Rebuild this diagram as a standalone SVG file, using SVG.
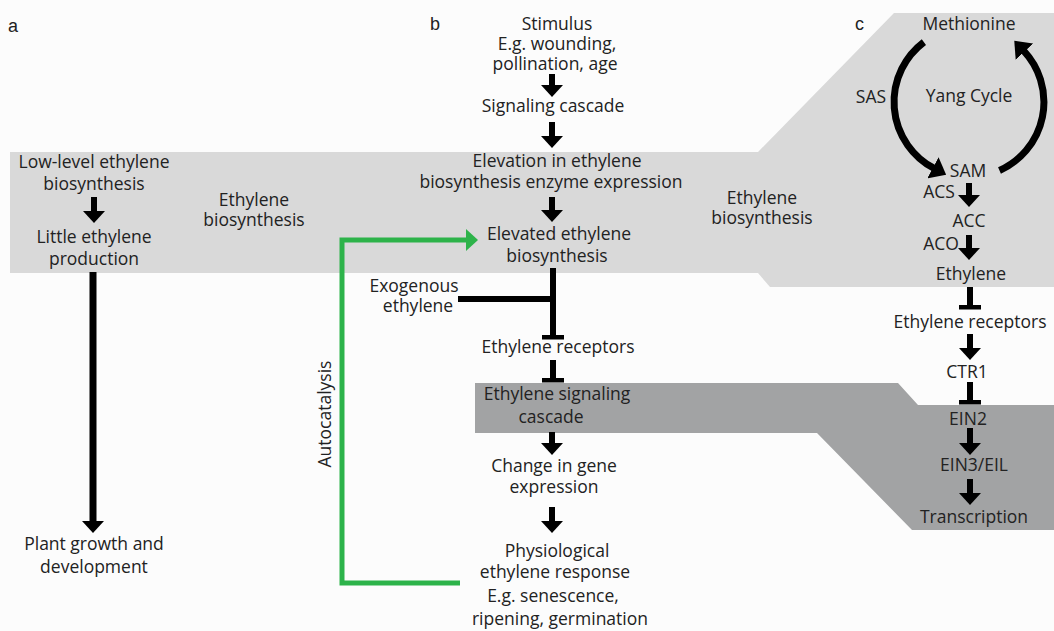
<svg xmlns="http://www.w3.org/2000/svg" width="1054" height="631" viewBox="0 0 1054 631">
<style>
  text { font-family: "Open Sans", "Liberation Sans", sans-serif; font-size: 17.5px; fill: #222; text-anchor: middle; }
  .lbl { font-family: "Liberation Sans", Arial, sans-serif; font-size: 18px; fill: #222; text-anchor: start; }
  .act { stroke: #000; stroke-width: 6; fill: none; }
  .big { stroke: #000; stroke-width: 7; fill: none; }
  .green { stroke: #2db34a; stroke-width: 5; fill: none; }
</style>
<defs>
  <marker id="ah" viewBox="0 0 12 22" refX="1" refY="11" markerWidth="12" markerHeight="22" markerUnits="userSpaceOnUse" orient="auto">
    <path d="M0,0 L12,11 L0,22 z" fill="#000"/>
  </marker>
  <marker id="ahc" viewBox="0 0 15 24" refX="1" refY="12" markerWidth="15" markerHeight="24" markerUnits="userSpaceOnUse" orient="auto">
    <path d="M0,0 L15,12 L0,24 z" fill="#000"/>
  </marker>
  <marker id="ahg" viewBox="0 0 12 22" refX="1" refY="11" markerWidth="12" markerHeight="22" markerUnits="userSpaceOnUse" orient="auto">
    <path d="M0,0 L12,11 L0,22 z" fill="#2db34a"/>
  </marker>
  <marker id="tee" viewBox="0 0 5 22" refX="2.5" refY="11" markerWidth="5" markerHeight="22" markerUnits="userSpaceOnUse" orient="auto">
    <rect x="0" y="0" width="5" height="22" fill="#000"/>
  </marker>
</defs>

<rect x="0" y="0" width="1054" height="631" fill="#fcfcfc"/>

<g id="bands">
  <polygon points="10,152 758,152 894,13 1054,13 1054,287 770,287 758,273 10,273" fill="#d9d9d9"/>
  <polygon points="475,383 898,383 918,405 1054,405 1054,530 912,530 817,433 475,433" fill="#a2a3a4"/>
</g>

<g id="panel-labels">
  <text class="lbl" x="8" y="32">a</text>
  <text class="lbl" x="430" y="30">b</text>
  <text class="lbl" x="855" y="30">c</text>
</g>

<g id="connectors">
  <!-- panel a -->
  <line class="act" x1="94" y1="197" x2="94" y2="212" marker-end="url(#ah)"/>
  <line class="big" x1="93" y1="272" x2="93" y2="522" marker-end="url(#ah)"/>
  <!-- panel b -->
  <line class="act" x1="552" y1="74" x2="552" y2="86" marker-end="url(#ah)"/>
  <line class="act" x1="552" y1="122" x2="552" y2="137" marker-end="url(#ah)"/>
  <line class="act" x1="552" y1="197" x2="552" y2="211" marker-end="url(#ah)"/>
  <line class="act" x1="553" y1="268" x2="553" y2="337" marker-end="url(#tee)"/>
  <line class="act" x1="458" y1="299" x2="556" y2="299"/>
  <line class="act" x1="553" y1="360" x2="553" y2="380" marker-end="url(#tee)"/>
  <line class="act" x1="552" y1="432" x2="552" y2="444" marker-end="url(#ah)"/>
  <line class="act" x1="552" y1="507" x2="552" y2="522" marker-end="url(#ah)"/>
  <path class="green" d="M460,583 H342 V240 H467" marker-end="url(#ahg)"/>
  <!-- panel c -->
  <path class="big" d="M923.9,42.1 A75,75 0 0 0 933.8,168.2" marker-end="url(#ahc)"/>
  <path class="big" d="M999.5,170.5 A75,75 0 0 0 1023.8,50.9" marker-end="url(#ahc)"/>
  <line class="act" x1="969" y1="183" x2="969" y2="196" marker-end="url(#ah)"/>
  <line class="act" x1="969" y1="235" x2="969" y2="249" marker-end="url(#ah)"/>
  <line class="act" x1="970" y1="287" x2="970" y2="307" marker-end="url(#tee)"/>
  <line class="act" x1="970" y1="334" x2="970" y2="349" marker-end="url(#ah)"/>
  <line class="act" x1="970" y1="382" x2="970" y2="402" marker-end="url(#tee)"/>
  <line class="act" x1="970" y1="428" x2="970" y2="444" marker-end="url(#ah)"/>
  <line class="act" x1="970" y1="479" x2="970" y2="494" marker-end="url(#ah)"/>
</g>

<g id="a-low"><text x="94" y="168">Low-level ethylene</text><text x="94" y="190">biosynthesis</text></g>
<g id="a-little"><text x="94" y="243">Little ethylene</text><text x="94" y="265">production</text></g>
<g id="a-biosyn"><text x="254" y="206">Ethylene</text><text x="254" y="226">biosynthesis</text></g>
<g id="a-plant"><text x="94" y="550">Plant growth and</text><text x="94" y="573">development</text></g>

<g id="b-stimulus"><text x="557" y="30">Stimulus</text><text x="557" y="50">E.g. wounding,</text><text x="555" y="70">pollination, age</text></g>
<g id="b-signal"><text x="553" y="112">Signaling cascade</text></g>
<g id="b-elevation"><text x="557" y="167">Elevation in ethylene</text><text x="551" y="188">biosynthesis enzyme expression</text></g>
<g id="b-elevated"><text x="559" y="240">Elevated ethylene</text><text x="557" y="262">biosynthesis</text></g>
<g id="b-exo"><text x="414" y="292">Exogenous</text><text x="418" y="312">ethylene</text></g>
<g id="b-receptors"><text x="558" y="353">Ethylene receptors</text></g>
<g id="b-cascade"><text x="557" y="400">Ethylene signaling</text><text x="551" y="423">cascade</text></g>
<g id="b-gene"><text x="554" y="472">Change in gene</text><text x="554" y="493">expression</text></g>
<g id="b-response"><text x="557" y="557">Physiological</text><text x="555" y="578">ethylene response</text><text x="553" y="602">E.g. senescence,</text><text x="560" y="625">ripening, germination</text></g>
<g id="b-auto"><text transform="translate(331,414) rotate(-90)">Autocatalysis</text></g>
<g id="b-biosyn"><text x="762" y="204">Ethylene</text><text x="762" y="224">biosynthesis</text></g>

<g id="c-methionine"><text x="969" y="30">Methionine</text></g>
<g id="c-sas"><text x="871" y="103">SAS</text></g>
<g id="c-yang"><text x="969" y="102">Yang Cycle</text></g>
<g id="c-sam"><text x="968" y="177">SAM</text></g>
<g id="c-acs"><text x="939" y="198">ACS</text></g>
<g id="c-acc"><text x="969" y="227">ACC</text></g>
<g id="c-aco"><text x="941" y="250">ACO</text></g>
<g id="c-ethylene"><text x="971" y="280">Ethylene</text></g>
<g id="c-receptors"><text x="970" y="328">Ethylene receptors</text></g>
<g id="c-ctr1"><text x="967" y="378">CTR1</text></g>
<g id="c-ein2"><text x="968" y="425">EIN2</text></g>
<g id="c-ein3"><text x="974" y="471">EIN3/EIL</text></g>
<g id="c-transcription"><text x="974" y="523">Transcription</text></g>
</svg>
